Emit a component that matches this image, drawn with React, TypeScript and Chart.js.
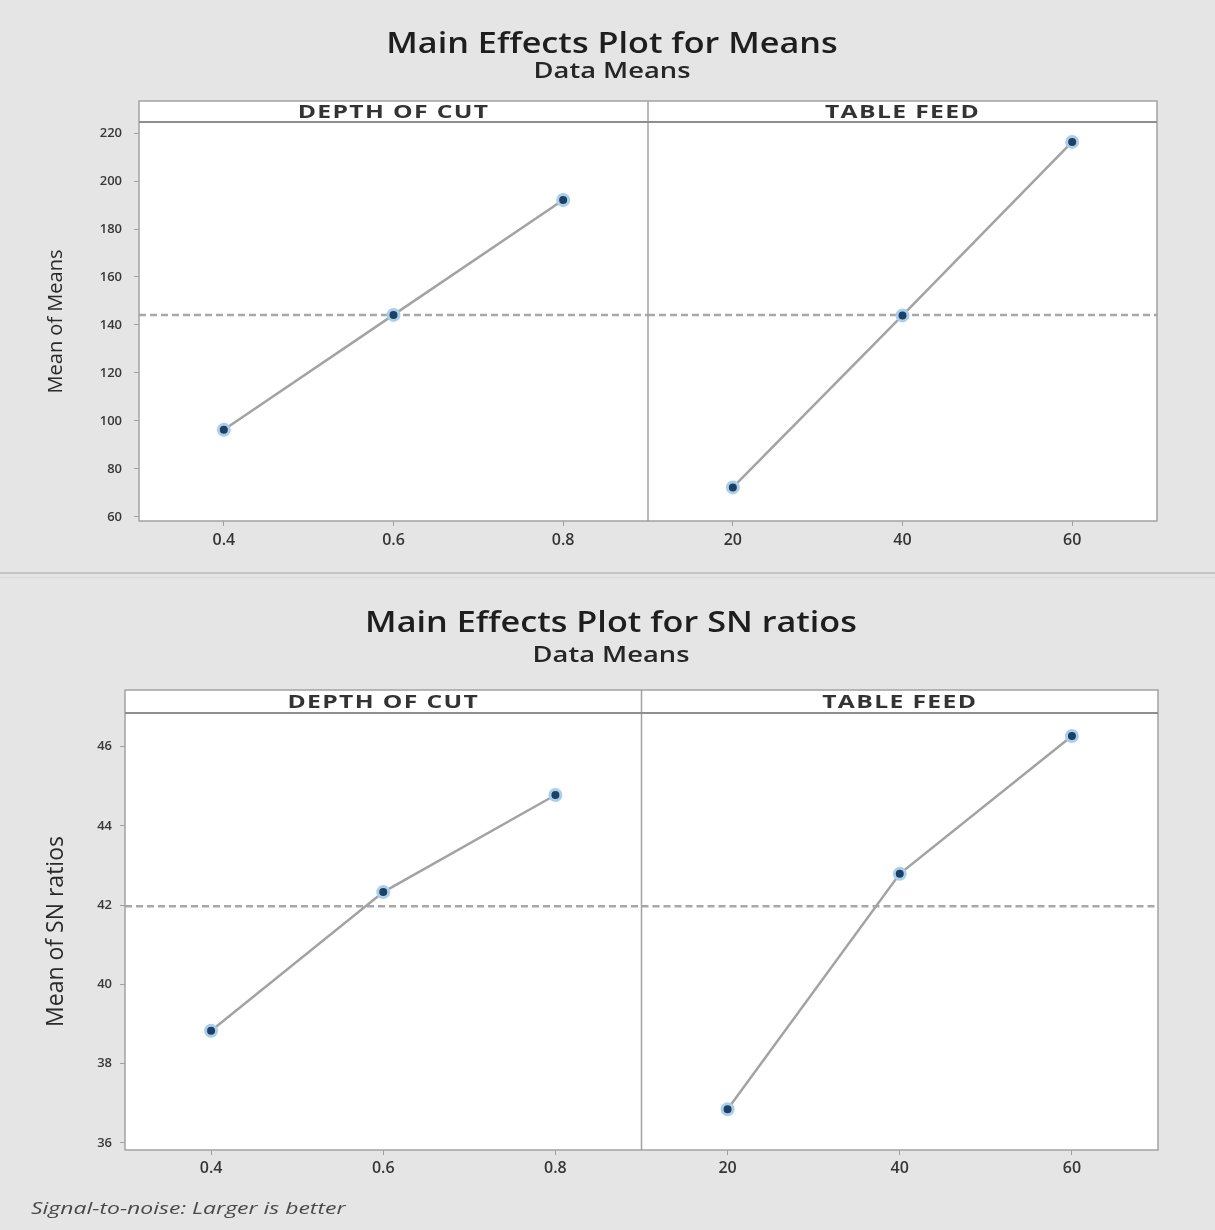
import React, { useEffect, useRef } from "react";
import { Chart, registerables } from "chart.js";

Chart.register(...registerables);

// ---- data ----
const depthLevels = [0.4, 0.6, 0.8];
const feedLevels = [20, 40, 60];
const depthRange = [0.3, 0.9];
const feedRange = [10, 70];
const meansByDepth = [96.3, 144.2, 192.1];
const meansByFeed = [72.3, 144.0, 216.3];
const snByDepth = [38.83, 42.33, 44.78];
const snByFeed = [36.85, 42.79, 46.27];
const meansTicks = [60, 80, 100, 120, 140, 160, 180, 200, 220];
const snTicks = [36, 38, 40, 42, 44, 46];
const meansRange = [58.3, 224.6];
const snRange = [35.82, 46.85];
const panelTitles = ["DEPTH OF CUT", "TABLE FEED"];

const FONT = '"Open Sans", "Noto Sans", sans-serif';
const avg = (a: number[]) => a.reduce((s, v) => s + v, 0) / a.length;

type Geo = {
  padR: number;
  padTop: number;
  yAxisW: number;
  yTitleSize: number;
  yTitlePad: number;
  yTickPad: number;
  xAxisH: number;
  xTickPad: number;
  titleX: number;
  titleY: number;
  subY: number;
  headerH: number;
};

type FigProps = {
  top: number;
  height: number;
  title: string;
  yTitle: string;
  depthVals: number[];
  feedVals: number[];
  yTicks: number[];
  yRange: number[];
  g: Geo;
};

function drawStretched(
  ctx: CanvasRenderingContext2D,
  text: string,
  x: number,
  y: number,
  font: string,
  sx: number,
  color: string,
  spacing = "0px"
) {
  ctx.save();
  ctx.font = font;
  ctx.fillStyle = color;
  ctx.textAlign = "center";
  ctx.textBaseline = "middle";
  (ctx as any).letterSpacing = spacing;
  ctx.translate(x, y);
  ctx.scale(sx, 1);
  ctx.fillText(text, 0, 0);
  ctx.restore();
}

const panelPlugin = {
  id: "panels",
  beforeDraw(chart: any, _args: any, opts: any) {
    const { ctx, chartArea: ca } = chart;
    const hTop = ca.top - opts.headerH;
    ctx.save();
    ctx.fillStyle = "#ffffff";
    ctx.fillRect(ca.left, hTop, ca.right - ca.left, ca.bottom - hTop);
    ctx.restore();
    drawStretched(ctx, opts.title, opts.titleX, opts.titleY, `600 29px ${FONT}`, 1.18, "#1e1e1e");
    drawStretched(ctx, opts.subtitle, opts.titleX, opts.subY, `600 21px ${FONT}`, 1.3, "#262626");
  },
  afterDraw(chart: any, _args: any, opts: any) {
    const { ctx, chartArea: ca, scales } = chart;
    const hTop = ca.top - opts.headerH;
    const divX = scales.xDepth.right;
    ctx.save();
    ctx.strokeStyle = "#a2a2a2";
    ctx.lineWidth = 1.5;
    ctx.strokeRect(ca.left, hTop, ca.right - ca.left, ca.bottom - hTop);
    ctx.beginPath();
    ctx.moveTo(divX, hTop);
    ctx.lineTo(divX, ca.bottom);
    ctx.stroke();
    ctx.strokeStyle = "#8e8e8e";
    ctx.lineWidth = 2;
    ctx.beginPath();
    ctx.moveTo(ca.left, ca.top);
    ctx.lineTo(ca.right, ca.top);
    ctx.stroke();
    ctx.restore();
    [scales.xDepth, scales.xFeed].forEach((s: any, i: number) => {
      drawStretched(
        ctx,
        panelTitles[i],
        (s.left + s.right) / 2,
        hTop + opts.headerH / 2 + 1,
        `bold 18px ${FONT}`,
        1.37,
        "#333333",
        "1px"
      );
    });
  },
};

function Figure(p: FigProps) {
  const ref = useRef<HTMLCanvasElement | null>(null);
  useEffect(() => {
    if (!ref.current) return;
    const g = p.g;
    const grand = avg([...p.depthVals, ...p.feedVals]);
    const effectStyle = {
      borderColor: "#a3a3a3",
      borderWidth: 2.5,
      pointRadius: 5.5,
      pointBorderWidth: 3,
      pointBackgroundColor: "#1e3f66",
      pointBorderColor: "#a9cfea",
      tension: 0,
      fill: false,
    };
    const meanStyle = {
      borderColor: "#a8a8a8",
      borderWidth: 2.5,
      borderDash: [7, 4],
      pointRadius: 0,
      fill: false,
    };
    const xScale = (levels: number[], range: number[]) => ({
      type: "linear",
      position: "bottom",
      stack: "panels",
      stackWeight: 1,
      min: range[0],
      max: range[1],
      afterBuildTicks: (s: any) => {
        s.ticks = levels.map((v) => ({ value: v }));
      },
      afterFit: (s: any) => {
        s.height = g.xAxisH;
      },
      grid: { drawOnChartArea: false, drawTicks: true, tickLength: 5, color: "#a0a0a0" },
      border: { display: false },
      ticks: {
        color: "#363636",
        font: { family: FONT, size: 16, weight: "600" as any },
        padding: g.xTickPad,
        callback: (v: any) => String(v),
      },
    });
    const chart = new Chart(ref.current, {
      type: "line",
      data: {
        datasets: [
          {
            data: depthLevels.map((x, i) => ({ x, y: p.depthVals[i] })),
            xAxisID: "xDepth",
            yAxisID: "y",
            ...effectStyle,
          },
          {
            data: feedLevels.map((x, i) => ({ x, y: p.feedVals[i] })),
            xAxisID: "xFeed",
            yAxisID: "y",
            ...effectStyle,
          },
          {
            data: depthRange.map((x) => ({ x, y: grand })),
            xAxisID: "xDepth",
            yAxisID: "y",
            ...meanStyle,
          },
          {
            data: feedRange.map((x) => ({ x, y: grand })),
            xAxisID: "xFeed",
            yAxisID: "y",
            ...meanStyle,
          },
        ] as any,
      },
      options: {
        animation: false,
        responsive: false,
        maintainAspectRatio: false,
        layout: { padding: { left: 0, right: g.padR, top: g.padTop, bottom: 0 } },
        plugins: {
          legend: { display: false },
          tooltip: { enabled: false },
          title: { display: false },
          panels: {
            headerH: g.headerH,
            title: p.title,
            subtitle: "Data Means",
            titleX: g.titleX,
            titleY: g.titleY,
            subY: g.subY,
          },
        } as any,
        scales: {
          xDepth: xScale(depthLevels, depthRange),
          xFeed: xScale(feedLevels, feedRange),
          y: {
            type: "linear",
            position: "left",
            min: p.yRange[0],
            max: p.yRange[1],
            afterBuildTicks: (s: any) => {
              s.ticks = p.yTicks.map((v) => ({ value: v }));
            },
            afterFit: (s: any) => {
              s.width = g.yAxisW;
            },
            grid: { drawOnChartArea: false, drawTicks: true, tickLength: 5, color: "#a0a0a0" },
            border: { display: false },
            ticks: {
              color: "#383838",
              font: { family: FONT, size: 13, weight: "600" as any },
              padding: g.yTickPad,
              callback: (v: any) => String(v),
            },
            title: {
              display: true,
              text: p.yTitle,
              color: "#2a2a2a",
              font: { family: FONT, size: g.yTitleSize, weight: "400" as any, lineHeight: 1 },
              padding: { top: g.yTitlePad, bottom: 0 },
            },
          },
        } as any,
      },
      plugins: [panelPlugin as any],
    });
    return () => chart.destroy();
  }, []);
  return (
    <canvas
      ref={ref}
      width={1215}
      height={p.height}
      style={{ position: "absolute", left: 0, top: p.top, width: 1215, height: p.height }}
    />
  );
}

export default function App() {
  return (
    <div
      style={{
        position: "absolute",
        left: 0,
        top: 0,
        width: 1215,
        height: 1230,
        overflow: "hidden",
        background: "#e5e5e5",
        fontFamily: FONT,
      }}
    >
      <Figure
        top={0}
        height={575}
        title="Main Effects Plot for Means"
        yTitle="Mean of Means"
        depthVals={meansByDepth}
        feedVals={meansByFeed}
        yTicks={meansTicks}
        yRange={meansRange}
        g={{
          padR: 58,
          padTop: 122,
          yAxisW: 139,
          yTitleSize: 20,
          yTitlePad: 46,
          yTickPad: 12,
          xAxisH: 54,
          xTickPad: 5,
          titleX: 612,
          titleY: 45,
          subY: 72,
          headerH: 21,
        }}
      />
      <div style={{ position: "absolute", left: 0, top: 572, width: 1215, height: 2, background: "#c4c4c4" }} />
      <div style={{ position: "absolute", left: 0, top: 577, width: 1215, height: 1, background: "#d9d9d9" }} />
      <Figure
        top={575}
        height={655}
        title="Main Effects Plot for SN ratios"
        yTitle="Mean of SN ratios"
        depthVals={snByDepth}
        feedVals={snByFeed}
        yTicks={snTicks}
        yRange={snRange}
        g={{
          padR: 57,
          padTop: 138,
          yAxisW: 125,
          yTitleSize: 23,
          yTitlePad: 44.5,
          yTickPad: 8,
          xAxisH: 80,
          xTickPad: 4,
          titleX: 611,
          titleY: 49,
          subY: 81,
          headerH: 23,
        }}
      />
      <div
        style={{
          position: "absolute",
          left: 31,
          top: 1196,
          fontSize: 17,
          fontStyle: "italic",
          color: "#4a4a4a",
          whiteSpace: "nowrap",
          transform: "scaleX(1.35)",
          transformOrigin: "left center",
        }}
      >
        Signal-to-noise: Larger is better
      </div>
    </div>
  );
}
